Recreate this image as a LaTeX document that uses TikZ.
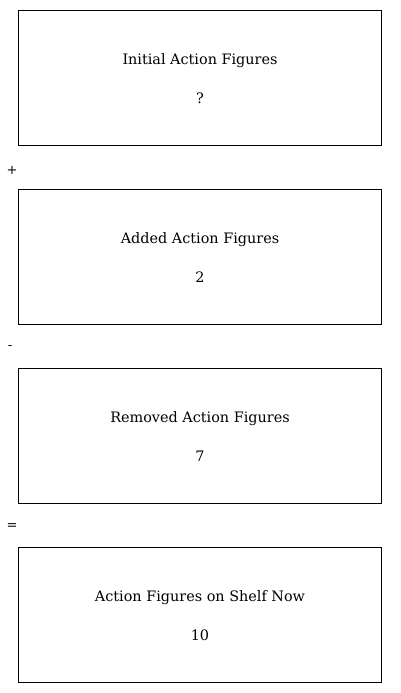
\documentclass[tikz,border=0pt]{standalone}
\usepackage{fontspec}
\setmainfont{DejaVu Serif}
\tikzset{
  box/.style={draw, line width=0.9pt, minimum width=363pt, minimum height=135pt, anchor=north west, inner sep=0pt},
  lbl/.style={font=\fontsize{14.4}{17}\selectfont, inner sep=0pt},
  sym/.style={font=\fontsize{13}{16}\selectfont, inner sep=0pt}
}
\begin{document}
\begin{tikzpicture}[x=1pt,y=-1pt]
\useasboundingbox (0,0) rectangle (400,693);
\node[box] (b1) at (18,10) {};
\node[box] (b2) at (18,189) {};
\node[box] (b3) at (18,368) {};
\node[box] (b4) at (18,547) {};
\node[lbl] (t1) at (200,61) {Initial Action Figures};
\node[lbl] (n1) at (200,98) {?};
\node[lbl] (t2) at (200,240) {Added Action Figures};
\node[lbl] (n2) at (200,277) {2};
\node[lbl] (t3) at (200,419) {Removed Action Figures};
\node[lbl] (n3) at (200,456) {7};
\node[lbl] (t4) at (200,598) {Action Figures on Shelf Now};
\node[lbl] (n4) at (200,635) {10};
\node[sym] (s1) at (12,170) {+};
\node[sym] (s2) at (10,348) {-};
\node[sym] (s3) at (12,527) {=};
\end{tikzpicture}
\end{document}
